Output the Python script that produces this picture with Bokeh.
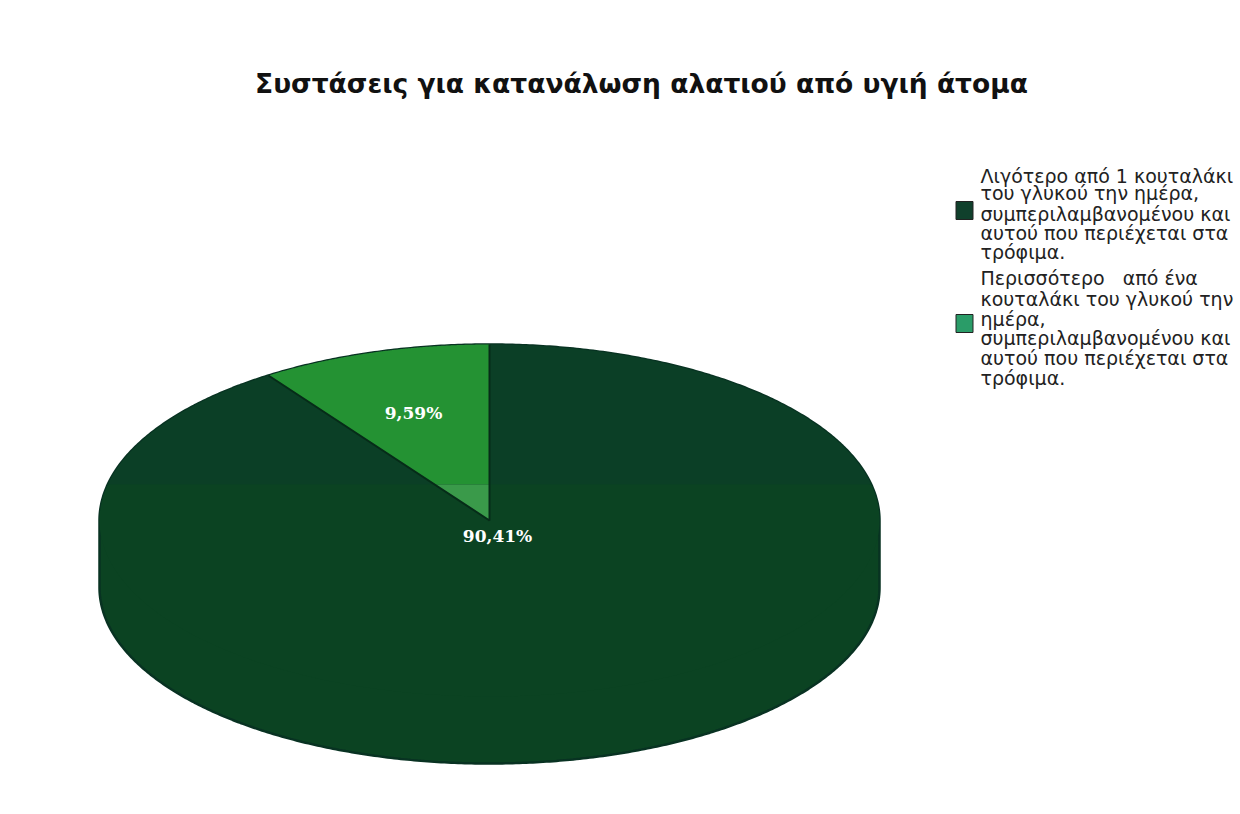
import numpy as np
from bokeh.embed import file_html
from bokeh.models import Range1d
from bokeh.plotting import figure
from bokeh.resources import INLINE
from bokeh.core.properties import value

title_text = "Συστάσεις για κατανάλωση αλατιού από υγιή άτομα"
shares = [90.41, 9.59]
share_labels = ["90,41%", "9,59%"]
legend_lines = [
    ["Λιγότερο από 1 κουταλάκι", "του γλυκού την ημέρα,", "συμπεριλαμβανομένου και",
     "αυτού που περιέχεται στα", "τρόφιμα."],
    ["Περισσότερο\u00a0\u00a0 από ένα", "κουταλάκι του γλυκού την", "ημέρα,",
     "συμπεριλαμβανομένου και", "αυτού που περιέχεται στα", "τρόφιμα."],
]
swatch_colors = ["#10402c", "#2a9c68"]

# Pie geometry in page pixels; the y range is flipped so y grows downward.
CX, CY, RX, RY, DEPTH = 489, 520, 390, 176, 67
HORIZON = 484

p = figure(width=1240, height=814, output_backend="svg", toolbar_location=None,
           x_range=Range1d(0, 1240), y_range=Range1d(814, 0), min_border=0,
           x_axis_location=None, y_axis_location=None, outline_line_color=None,
           background_fill_color="#ffffff", border_fill_color="#ffffff")
p.grid.visible = False


def slice_outline(frac_from, frac_to):
    """Apex plus rim points of a slice; fractions run clockwise from twelve o'clock."""
    t = 2 * np.pi * np.linspace(frac_from, frac_to, 240)
    return (np.r_[CX, CX + RX * np.sin(t)], np.r_[CY, CY - RY * np.cos(t)])


def clip_y(xs, ys, keep_above):
    """Clip a polygon against the horizontal shading break."""
    out_x, out_y = [], []
    n = len(xs)
    inside = (lambda y: y <= HORIZON) if keep_above else (lambda y: y >= HORIZON)
    for i in range(n):
        x0, y0, x1, y1 = xs[i], ys[i], xs[(i + 1) % n], ys[(i + 1) % n]
        if inside(y0):
            out_x.append(x0)
            out_y.append(y0)
        if inside(y0) != inside(y1):
            f = (HORIZON - y0) / (y1 - y0)
            out_x.append(x0 + f * (x1 - x0))
            out_y.append(HORIZON)
    return out_x, out_y


# Side wall and silhouette of the tilted pie.
t = np.linspace(0, 2 * np.pi, 720)
ex, ey = RX * np.cos(t), RY * np.sin(t)
sil_x = np.r_[CX + ex[:360], CX + ex[360:]]
sil_y = np.r_[CY + DEPTH + ey[:360], CY + ey[360:]]
p.patch(sil_x, sil_y, fill_color="#0b4322", line_color="#083222", line_width=2.5)

# Top face: slices taken from the shares, the small one ending at twelve o'clock.
total = sum(shares)
small_start = 1 - shares[1] / total
big_x, big_y = slice_outline(0, small_start)
small_x, small_y = slice_outline(small_start, 1)

ux, uy = clip_y(big_x, big_y, True)
p.patch(ux, uy, fill_color="#0b3f26", line_color=None)
lx, ly = clip_y(big_x, big_y, False)
p.patch(lx, ly, fill_color="#0b4322", line_color=None)
ux, uy = clip_y(small_x, small_y, True)
p.patch(ux, uy, fill_color="#249233", line_color=None)
lx, ly = clip_y(small_x, small_y, False)
p.patch(lx, ly, fill_color="#3a9a4a", line_color=None)

# Seams along the two straight edges of the small slice.
p.line([small_x[1], CX, small_x[-1]], [small_y[1], CY, small_y[-1]],
       line_color="#062c18", line_width=2)

# Percentage labels.
p.text([497, 413], [535, 412], text=share_labels, text_color="#ffffff",
       text_font=value("DejaVu Serif"), text_font_style="bold", text_font_size="17px",
       text_align="center", text_baseline="middle")

# Title.
p.text([641], [83], text=[title_text], text_color="#111111",
       text_font=value("DejaVu Sans"), text_font_style="bold", text_font_size="26.5px",
       text_align="center", text_baseline="middle")

# Legend: one swatch centred beside each multi-line entry.
legend_y = [[175, 192, 213, 232, 251], [277, 298, 318, 337, 357, 377]]
swatch_y = [210, 323]
for lines, ys, sy, col in zip(legend_lines, legend_y, swatch_y, swatch_colors):
    p.rect([964], [sy], width=17, height=18, fill_color=col, line_color="#222222", line_width=1)
    p.text([980] * len(lines), ys, text=lines, text_color="#222222",
           text_font=value("DejaVu Sans"), text_font_size="19px",
           text_align="left", text_baseline="middle")

open("out.html", "w").write(file_html(p, INLINE))
